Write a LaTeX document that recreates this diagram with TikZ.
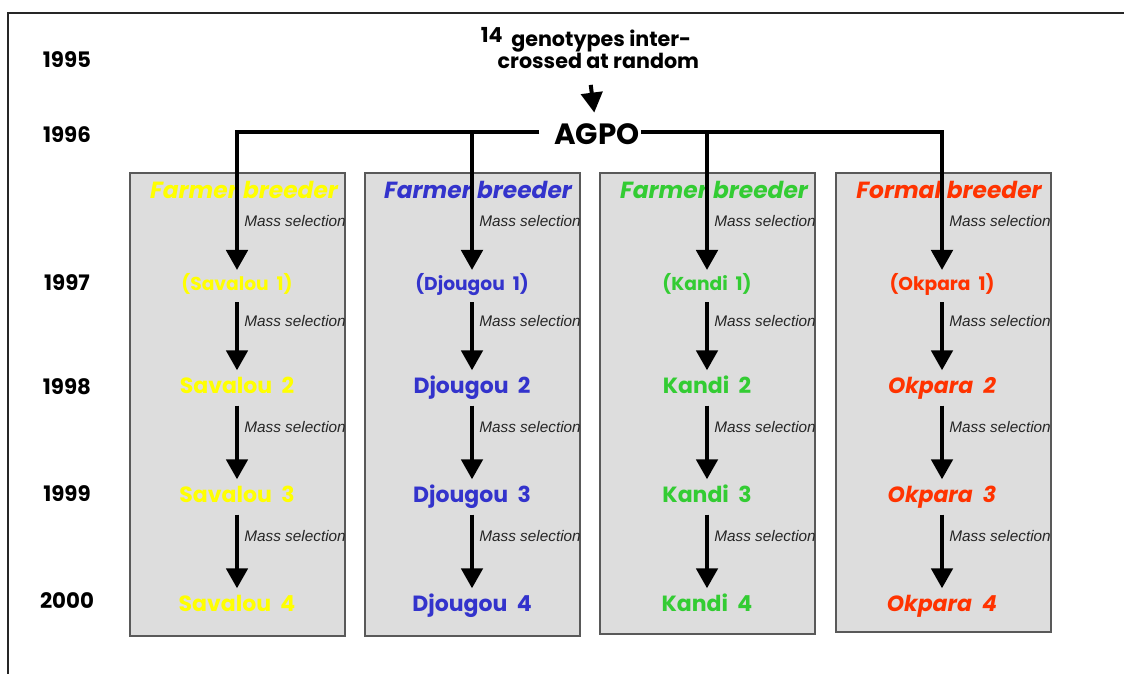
\documentclass[tikz,border=0pt]{standalone}
\usepackage{fontspec}
\setmainfont{Poppins}
\newfontfamily\selfont{Liberation Sans}
\usetikzlibrary{arrows.meta, positioning}
\usepackage{xcolor}
\definecolor{savalou}{HTML}{FFFF00}
\definecolor{djougou}{HTML}{3333CC}
\definecolor{kandi}{HTML}{33CC33}
\definecolor{okpara}{HTML}{FF3300}
\definecolor{boxbg}{HTML}{DDDDDD}
\tikzset{
    year/.style={
        font=\fontsize{16}{18}\selectfont\bfseries
    },
    origin/.style={
        font=\fontsize{22}{24}\selectfont\bfseries, fill=white, inner sep=1pt
    },
    caption/.style={
        align=center, font=\fontsize{15.5}{16}\selectfont\bfseries
    },
    colbox/.style={
        fill=boxbg, draw=black!65, line width=0.8pt
    },
    header/.style={
        font=\fontsize{17.5}{19}\selectfont\bfseries\itshape
    },
    firstgen/.style={
        font=\fontsize{14}{16}\selectfont\bfseries, text height=10pt, text depth=3pt
    },
    item/.style={
        font=\fontsize{16.5}{18}\selectfont\bfseries, text height=12pt, text depth=3.5pt
    },
    sel/.style={
        right, inner sep=1pt, xshift=3pt, text=black!85,
        font=\selfont\itshape\fontsize{11.5}{13}\selectfont
    },
    trunk/.style={
        line width=3pt, draw=black
    },
    arrow/.style={
        -{Triangle[length=15pt, width=16pt]}, line width=3pt, draw=black,
        shorten <=2pt, shorten >=2pt
    },
    frame/.style={
        line width=1.2pt, draw=black!85
    }
}

\begin{document}
\begin{tikzpicture}[x=0.75pt, y=-0.75pt]

    \useasboundingbox (0,0) rectangle (1124,674);
    \draw[frame] (1124,13) -- (8,13) -- (8,674);

    % years
    \node[year] (y95) at (67,60)  {1995};
    \node[year] (y96) at (67,135) {1996};
    \node[year] (y97) at (67,283) {1997};
    \node[year] (y98) at (67,387) {1998};
    \node[year] (y99) at (67,494) {1999};
    \node[year] (y00) at (67,601) {2000};

    % column boxes
    \draw[colbox] (130,173) rectangle (345,636);
    \draw[colbox] (365,173) rectangle (580,636);
    \draw[colbox] (600,173) rectangle (815,634);
    \draw[colbox] (836,173) rectangle (1051,632);

    \node[header, text=savalou] (hS) at (244,190) {Farmer breeder};
    \node[header, text=djougou] (hD) at (478,190) {Farmer breeder};
    \node[header, text=kandi]   (hK) at (714,190) {Farmer breeder};
    \node[header, text=okpara]  (hO) at (949,190) {Formal breeder};

    % origin
    \node[caption] (cross) at (586,48) {\raisebox{3pt}{14}\ \ genotypes inter-\\\hspace*{1.2em}crossed at random};
    \node[origin]  (agpo)  at (597,134) {AGPO};
    \draw[arrow, shorten <=9pt, shorten >=7pt] (cross) -- (agpo);

    \coordinate (jS) at (237,132);
    \coordinate (jD) at (472,132);
    \coordinate (jK) at (707,132);
    \coordinate (jO) at (942,132);
    \draw[trunk] ([xshift=-10pt]jS -| agpo.west) -- ([xshift=-1.5pt]jS);
    \draw[trunk] (jO -| agpo.east) -- ([xshift=1.5pt]jO);

    % lines
    \node[firstgen, text=savalou] (s1) at (237,286) {(Savalou\ \ 1)};
    \node[item, text=savalou]     (s2) at (237,388) {Savalou\ \ 2};
    \node[item, text=savalou]     (s3) at (237,497) {Savalou\ \ 3};
    \node[item, text=savalou]     (s4) at (237,606) {Savalou\ \ 4};

    \node[firstgen, text=djougou] (d1) at (472,286) {(Djougou\ \ 1)};
    \node[item, text=djougou]     (d2) at (472,388) {Djougou\ \ 2};
    \node[item, text=djougou]     (d3) at (472,497) {Djougou\ \ 3};
    \node[item, text=djougou]     (d4) at (472,606) {Djougou\ \ 4};

    \node[firstgen, text=kandi]   (k1) at (707,286) {(Kandi\ \ 1)};
    \node[item, text=kandi]       (k2) at (707,388) {Kandi\ \ 2};
    \node[item, text=kandi]       (k3) at (707,497) {Kandi\ \ 3};
    \node[item, text=kandi]       (k4) at (707,606) {Kandi\ \ 4};

    \node[firstgen, text=okpara]  (o1) at (942,286) {(Okpara\ \ 1)};
    \node[item, text=okpara, font=\fontsize{16.5}{18}\selectfont\bfseries\itshape] (o2) at (942,388) {Okpara\ \ 2};
    \node[item, text=okpara, font=\fontsize{16.5}{18}\selectfont\bfseries\itshape] (o3) at (942,497) {Okpara\ \ 3};
    \node[item, text=okpara, font=\fontsize{16.5}{18}\selectfont\bfseries\itshape] (o4) at (942,606) {Okpara\ \ 4};

    % selection arrows
    \draw[arrow, shorten <=0pt] (jS) -- node[sel, pos=0.63] {Mass selection} (s1);
    \draw[arrow] (s1) -- node[sel, pos=0.3]  {Mass selection} (s2);
    \draw[arrow] (s2) -- node[sel, pos=0.31] {Mass selection} (s3);
    \draw[arrow] (s3) -- node[sel, pos=0.3]  {Mass selection} (s4);

    \draw[arrow, shorten <=0pt] (jD) -- node[sel, pos=0.63] {Mass selection} (d1);
    \draw[arrow] (d1) -- node[sel, pos=0.3]  {Mass selection} (d2);
    \draw[arrow] (d2) -- node[sel, pos=0.31] {Mass selection} (d3);
    \draw[arrow] (d3) -- node[sel, pos=0.3]  {Mass selection} (d4);

    \draw[arrow, shorten <=0pt] (jK) -- node[sel, pos=0.63] {Mass selection} (k1);
    \draw[arrow] (k1) -- node[sel, pos=0.3]  {Mass selection} (k2);
    \draw[arrow] (k2) -- node[sel, pos=0.31] {Mass selection} (k3);
    \draw[arrow] (k3) -- node[sel, pos=0.3]  {Mass selection} (k4);

    \draw[arrow, shorten <=0pt] (jO) -- node[sel, pos=0.63] {Mass selection} (o1);
    \draw[arrow] (o1) -- node[sel, pos=0.3]  {Mass selection} (o2);
    \draw[arrow] (o2) -- node[sel, pos=0.31] {Mass selection} (o3);
    \draw[arrow] (o3) -- node[sel, pos=0.3]  {Mass selection} (o4);

\end{tikzpicture}
\end{document}
